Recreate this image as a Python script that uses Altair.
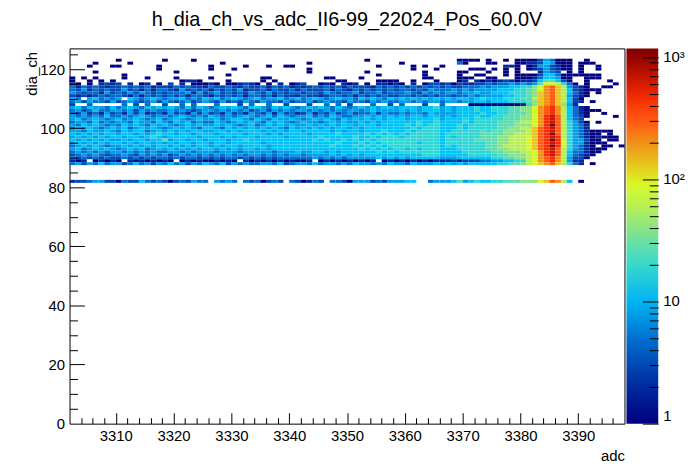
import altair as alt
import pandas as pd

TITLE = "h_dia_ch_vs_adc_II6-99_22024_Pos_60.0V"
X_START = 3302
X_END = 3398
Y_MAX = 127
Z_MAX = 1180

X_LABELS = [3310, 3320, 3330, 3340, 3350, 3360, 3370, 3380, 3390]
Y_LABELS = [0, 20, 40, 60, 80, 100, 120]
X_TICKS = list(range(3304, 3398, 2))
Y_TICKS = list(range(5, 127, 5))
CBAR_LABELS = [1, 10, 100, 1000]
CBAR_TICKS = [1, 2, 3, 4, 5, 6, 7, 8, 9, 10, 20, 30, 40, 50, 60, 70, 80, 90,
              100, 200, 300, 400, 500, 600, 700, 800, 900, 1000]

# cell codes ('.' = empty bin)
LEVEL_CODES = ".123456789abcdefgh"
LEVEL_COUNTS = [0, 1, 2, 3, 5, 8, 12, 18, 27, 40, 60, 90, 135, 200, 300, 450, 680, 1000]

# one string per dia_ch channel, 96 adc bins (3302..3397), grouped by 8
ROWS = {
    123: "........ 1....... 1....1.. ........ ........ ........ ...1.... ........ ...1111. 1..1.111 1354111. .1......",
    122: "....1... ..1..... ........ ..1..... ........ .1...... ........ .1...... ...41... 11...112 2365111. 111.....",
    121: "...1...1 1......1 ........ 1.....1. ..1..11. ........ .....1.. ...1.1.. 1....... ...221.1 2553211. 1..1....",
    120: "........ .......1 ........ 1...1... ........ .1...... ........ ...1...1 .....111 .1.1.1.1 2353211. 1..1....",
    119: "....1... ........ ..1..... ........ ........ .1...... ...1.... .....1.. ...11... 1..1.1.. .2543.1. 1.......",
    118: "........ .1...... ........ ...1.... ........ ........ .....1.. .....1.. ...1..11 ...1.111 13664111 1111....",
    117: "1.1.1... .1...1.. ..1..... 1....... .11..... ....11.. ..1..... .....11. ...111.. 11...111 2466511. .111....",
    116: "1..1.1.1 ........ ...1221. ...1.... .1.1.... ......11 .....111 1..1...1 ...12.21 21232122 3688631. .1...1..",
    115: "21.1.232 3.2.12.1 .3.2.111 21.11232 1.1.2.12 3..121.2 12.1.221 21.2.133 23132233 43445454 58bba741 .1....1.",
    114: "42434323 34343423 32434332 43343243 34243423 23434342 43332434 34343434 34334445 45556677 9bdeca53 21..11..",
    113: "43524343 35342424 43253434 24343523 34243342 43334243 24343434 34434354 44545455 55666778 9bdeca63 2111....",
    112: "54344253 43535434 34445253 45343435 43534344 34435434 45344534 44543545 45545565 56667778 9cdeca64 21.1....",
    111: "32323434 43242434 34342443 24343424 43424332 43323443 42434343 34434343 44344545 55566778 9cdeca53 21......",
    110: "54.56454 5.654565 45564546 56456545 64556456 45654565 54656546 56565656 56566567 66677788 acdeca63 1.......",
    109: "45354435 34543453 54345345 43534354 35443534 45345443 54435454 45545455 45545566 56667778 9cdeca63 2.1.....",
    108: "3..4.... .4.3.4.. 3..4.4.. .4...3.4 ..4..3.. .3..4.4. 3...4..3 .4...3.. 4....111 11111127 9cdec952 ........",
    107: "56465546 45654656 56546465 45656546 65465654 56565465 45656566 56665667 56566676 67778899 bdefda64 21......",
    106: "45346445 54535454 45454345 54545453 45354545 54545454 55456555 56565666 56566676 67778899 bdefda64 2111....",
    105: "43524253 42535234 25342535 34253425 43525342 35243534 53445354 45455465 55566667 66778889 bdefda64 21..1...",
    104: "54545464 45456545 54565454 65454565 45646545 56454654 45565656 56566566 56566676 67788899 bdfgea64 31....1.",
    103: "56456545 64565456 45654565 56456654 65465565 45656546 56565656 66566667 56667677 77788899 bdfgea64 3.......",
    102: "45546454 55465546 54656454 46545656 54656545 65545656 55656566 66667667 66667677 778889aa bdfgea75 31.1....",
    101: "54656545 46565465 65456565 56565456 45656565 56565656 65666566 66767677 66676777 77888999 bdfhea75 42......",
    100: "46565456 56456565 45656546 65465656 56565465 65656566 56566666 66676777 66676777 778899aa cefgea75 42......",
    99:  "55465565 46566456 56565665 56656566 65656566 56666565 66566676 66767777 66777778 7889999a cefgea75 421111..",
    98:  "65656566 56656567 66566566 65666656 66565666 65666676 66676767 67677777 67777778 88899aaa cefhea75 4211.1..",
    97:  "56565656 65665676 56666656 66565666 56666566 66676666 67667677 76777777 67677778 8899aaab cefgfa75 4212111.",
    96:  "65656565 56566566 85665665 66656676 66666666 66767667 67676777 77777777 67777788 8899aaab cefhfb75 5311.11.",
    95:  "56565656 65656656 56566566 56656666 65666666 66666676 66767677 77776777 67777777 8899aaab cefgfb75 52111...",
    94:  "45656545 56565656 65656566 56566566 66566666 66666766 67676767 77777777 67677777 889aaaab cefhfb75 421.11.1",
    93:  "56456565 45656456 56565656 65656566 56566666 66666666 66767676 77676777 66677777 8899aaab cefgea75 42111...",
    92:  "45454545 54545454 45545455 54555455 55545556 55665656 66666767 67777777 66667777 788999aa bdfgea64 4211....",
    91:  "34545434 45435454 53454545 45454545 54545455 45555656 56566666 66666777 66666777 7788999a bdfgea64 321.....",
    90:  "43434343 34343434 43434434 34344343 43434444 44545454 55555656 56566666 55566666 6778899a bdefda53 31......",
    89:  "212.1212 1.212121 21.12121 12121.21 21212121 12.12121 21212.12 12121212 22323334 4556677a bdefda52 2.......",
    88:  "45354645 53464535 46453546 54635454 45546345 54645545 46554546 55465556 56565666 6677889a bcdeca74 2.1.....",
    82:  "23345533 14336434 31343544 .5454.43 41343.43 1243.443 15553435 5566..45 55685676 67788899 9bceda6. 1.......",
}

# colour palette (fraction of the log colour axis -> colour)
CMAP_FRACS = [0, 0.098, 0.155, 0.228, 0.294, 0.351, 0.409, 0.466, 0.521, 0.579,
              0.636, 0.693, 0.749, 0.806, 0.864, 0.922, 0.977, 1.0]
CMAP_COLORS = ["#000080", "#002a9e", "#0048b4", "#0070d0", "#00a0e8", "#00c4f8",
               "#30d6d6", "#5cdcb0", "#8ae484", "#b8f050", "#d6f828", "#e8c420",
               "#f09018", "#ff5812", "#f82c04", "#c81400", "#900400", "#800000"]
CMAP_DOMAIN = [Z_MAX ** f for f in CMAP_FRACS]

records = []
for row, s in ROWS.items():
    s = s.replace(" ", "")
    assert len(s) == 96, (row, len(s))
    for j, ch in enumerate(s):
        if ch != ".":
            records.append({
                "adc": X_START + j,
                "adc_end": X_START + j + 1,
                "dia_lo": row - 0.5,
                "dia_hi": row + 0.5,
                "count": LEVEL_COUNTS[LEVEL_CODES.index(ch)],
            })
df = pd.DataFrame(records)

FONT = "Liberation Sans"
W, H = 559, 378
CBAR_RIGHT = 593  # right edge of the colour bar, in plot pixels

xscale = alt.Scale(domain=[X_START, X_END], nice=False, zero=False)
yscale = alt.Scale(domain=[0, Y_MAX], nice=False, zero=False)
cscale = alt.Scale(type="log", domain=CMAP_DOMAIN, range=CMAP_COLORS)

base = alt.Chart(df)

heat = base.mark_rect(strokeWidth=0).encode(
    x=alt.X("adc:Q", scale=xscale, axis=alt.Axis(
        values=X_LABELS, format="d", ticks=False, domain=False, grid=False,
        labelFont=FONT, labelFontSize=15, labelPadding=5, labelColor="black",
        title="adc", titleFont=FONT, titleFontSize=15, titleFontWeight="normal",
        titleColor="black", titleAnchor="end", titleAlign="right",
        titleX=W, titleY=37, titleBaseline="alphabetic")),
    x2="adc_end:Q",
    y=alt.Y("dia_lo:Q", scale=yscale, axis=alt.Axis(
        values=Y_LABELS, format="d", ticks=False, domain=False, grid=False,
        labelFont=FONT, labelFontSize=15, labelPadding=5, labelColor="black",
        title="dia_ch", titleFont=FONT, titleFontSize=15, titleFontWeight="normal",
        titleColor="black", titleAngle=270, titleAlign="right",
        titleX=-33, titleY=3, titleBaseline="alphabetic")),
    y2="dia_hi:Q",
    color=alt.Color("count:Q", scale=cscale, legend=alt.Legend(
        type="gradient", title=None, orient="none", legendX=561, legendY=0,
        direction="vertical",
        gradientLength=H, gradientThickness=32, gradientStrokeWidth=0,
        values=CBAR_LABELS,
        labelExpr="datum.value == 1 ? '1' : datum.value == 10 ? '10' : datum.value == 100 ? '10²' : '10³'",
        labelFont=FONT, labelFontSize=15, labelColor="black", labelOffset=5,
        labelBaseline="middle", labelOverlap=False, padding=0)),
)

ticks_layer = base.transform_filter("datum.count >= 1000").mark_rect(opacity=0).encode(
    x=alt.X("adc:Q", scale=xscale, axis=alt.Axis(
        orient="top", offset=-H, values=X_TICKS, labels=False, domain=False,
        grid=False, title=None, tickColor="black", tickWidth=1, zindex=1,
        tickSize={"condition": {"test": "datum.value % 10 === 0", "value": 11}, "value": 6})),
    x2="adc_end:Q",
    y=alt.Y("dia_lo:Q", scale=yscale, axis=alt.Axis(
        orient="right", offset=-W, values=Y_TICKS, labels=False, domain=False,
        grid=False, title=None, tickColor="black", tickWidth=1, zindex=1,
        tickSize={"condition": {"test": "datum.value % 20 === 0", "value": 15}, "value": 8})),
    y2="dia_hi:Q",
)

cbar_ticks = base.transform_filter("datum.count >= 1000").mark_point(opacity=0).encode(
    y=alt.Y("count:Q", scale=alt.Scale(type="log", domain=[1, Z_MAX], nice=False),
            axis=alt.Axis(
                orient="left", offset=-CBAR_RIGHT, values=CBAR_TICKS, labels=False,
                domain=False, grid=False, title=None, tickColor="black", tickWidth=1,
                zindex=1,
                tickSize={"condition": {"test": "datum.value == 1 || datum.value == 10 || datum.value == 100 || datum.value == 1000",
                                        "value": 16}, "value": 9})),
)

chart = alt.layer(heat, ticks_layer, cbar_ticks).resolve_axis(
    x="independent", y="independent"
).resolve_scale(
    y="independent"
).properties(
    width=W, height=H,
    title=alt.TitleParams(text=TITLE, font=FONT, fontSize=20, fontWeight="normal",
                          color="black", anchor="middle", frame="group",
                          offset=3, baseline="alphabetic"),
    autosize=alt.AutoSizeParams(type="none"),
    padding={"left": 62, "top": 39, "right": 66, "bottom": 45},
).configure_view(stroke="black", strokeWidth=1)

chart.save("out.html", embed_options={"renderer": "svg", "actions": False})
